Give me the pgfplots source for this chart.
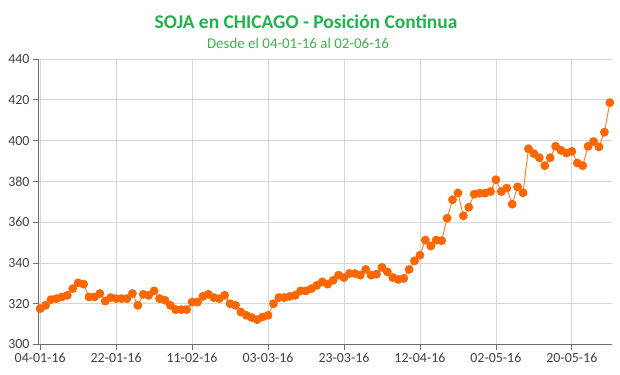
\documentclass[border=0pt]{standalone}
\usepackage{fontspec}
\setmainfont{Carlito}
\usepackage{pgfplots}
\pgfplotsset{compat=1.18}
\definecolor{titlegreen}{HTML}{22B14C}
\definecolor{subgreen}{HTML}{3DB54A}
\definecolor{sojaorange}{HTML}{FF6600}
\definecolor{gridgray}{HTML}{D6D6D6}
\definecolor{axisgray}{HTML}{6E6E6E}
\definecolor{labelgray}{HTML}{404040}
\begin{document}
\begin{tikzpicture}
\useasboundingbox (0bp,0bp) rectangle (620bp,375bp);
\node[font=\fontsize{19.5}{22}\selectfont\bfseries, text=titlegreen] at (306bp,353.5bp) {SOJA en CHICAGO - Posición Continua};
\node[font=\fontsize{15}{17}\selectfont, text=subgreen] at (298bp,331.5bp) {Desde el 04-01-16 al 02-06-16};
\begin{axis}[
  at={(38bp,30.5bp)}, anchor=south west,
  scale only axis, width=574bp, height=285.5bp,
  xmin=-0.4, xmax=105.4, ymin=300, ymax=440,
  axis x line*=bottom, axis y line*=left,
  axis line style={axisgray, line width=0.8bp},
  ytick={300,320,...,440},
  xtick={0,14,...,98},
  xticklabels={04-01-16,22-01-16,11-02-16,03-03-16,23-03-16,12-04-16,02-05-16,20-05-16},
  tick align=outside, major tick length=5bp,
  tick style={axisgray, line width=0.8bp},
  grid=major, major grid style={gridgray, line width=0.8bp},
  ticklabel style={font=\fontsize{14}{16}\selectfont, text=labelgray},
  /pgf/number format/assume math mode=true,
  clip=false,
]
\addplot[color=sojaorange!80, line width=1bp, mark=*, mark size=3.9bp,
  mark options={fill=sojaorange, draw=sojaorange}] table[x=i, y=v] {
i v
0 317.6
1 319.2
2 322.0
3 322.5
4 323.3
5 324.1
6 327.4
7 330.2
8 329.6
9 323.3
10 323.3
11 325.0
12 321.3
13 323.0
14 322.5
15 322.5
16 322.5
17 325.0
18 319.2
19 324.6
20 324.1
21 326.3
22 322.5
23 321.7
24 319.2
25 317.1
26 317.1
27 317.1
28 320.8
29 320.8
30 323.6
31 324.6
32 323.0
33 322.5
34 324.1
35 320.0
36 319.2
37 315.9
38 314.3
39 313.2
40 312.2
41 313.5
42 314.3
43 320.0
44 323.0
45 323.0
46 323.6
47 324.1
48 326.3
49 326.3
50 327.4
51 329.0
52 330.7
53 329.6
54 331.5
55 334.0
56 332.8
57 334.8
58 334.8
59 334.0
60 336.8
61 334.0
62 334.5
63 337.8
64 335.6
65 332.8
66 331.9
67 332.4
68 336.8
69 341.0
70 343.8
71 351.2
72 348.3
73 351.2
74 350.9
75 361.9
76 371.0
77 374.3
78 363.1
79 367.3
80 373.7
81 374.2
82 374.2
83 375.0
84 380.8
85 375.0
86 376.7
87 368.8
88 377.3
89 374.4
90 396.0
91 393.6
92 391.6
93 387.7
94 391.6
95 397.2
96 395.2
97 393.9
98 394.7
99 389.0
100 387.7
101 397.2
102 399.5
103 396.9
104 404.1
105 418.6
};
\end{axis}
\end{tikzpicture}
\end{document}
